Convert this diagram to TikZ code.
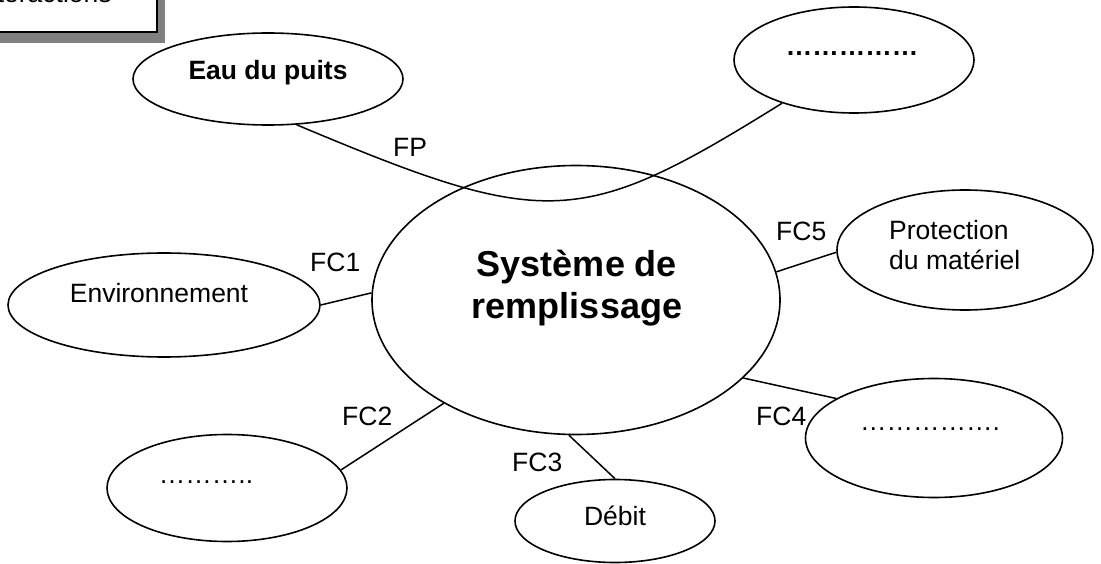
\documentclass[tikz,border=0pt]{standalone}
\usepackage{fontspec}
\setmainfont{Liberation Sans}
\usetikzlibrary{shapes.geometric}
\newcommand{\fnorm}{\fontsize{26.5}{30}\selectfont}
\newcommand{\fbig}{\fontsize{36}{43}\selectfont\bfseries}
\tikzset{
    blob/.style = {draw, ellipse, line width=1.6pt, inner sep=0pt},
    txt/.style = {font=\fnorm, inner sep=0pt, anchor=base},
    fclabel/.style = {font=\fnorm, inner sep=0pt, anchor=base west},
    wire/.style = {draw, line width=1.5pt}
}
\begin{document}
\begin{tikzpicture}[x=1pt,y=-1pt]
    \useasboundingbox (0,0) rectangle (1101,564);
    \clip (0,0) rectangle (1101,564);
    % title frame with its shadow, cut by the page edge
    \fill[gray] (-40,-40) rectangle (165,43);
    \draw[line width=1.6pt, fill=white] (-50,-50) rectangle (157,32);
    \node[txt, anchor=base west] (title) at (-24,3) {interactions};
    % ellipses
    \node[blob, minimum width=408pt, minimum height=269pt] (sys) at (576,300) {};
    \node[blob, minimum width=270pt, minimum height=92pt] (eau) at (268,79) {};
    \node[blob, minimum width=240pt, minimum height=106pt] (dots1) at (854,60) {};
    \node[blob, minimum width=312pt, minimum height=104pt] (env) at (164,305) {};
    \node[blob, minimum width=256pt, minimum height=120pt] (prot) at (965,250) {};
    \node[blob, minimum width=240pt, minimum height=107pt] (dots2) at (227,488) {};
    \node[blob, minimum width=200pt, minimum height=83pt] (debit) at (615,521) {};
    \node[blob, minimum width=257pt, minimum height=119pt] (dots4) at (934,438) {};
    % texts inside the ellipses (base = last line)
    \node[txt, font=\fbig, align=center] (systxt) at (577,319) {Système de\\remplissage};
    \node[txt, font=\fnorm\bfseries] (eautxt) at (268,80) {Eau du puits};
    \node[txt, font=\fnorm\bfseries] (dots1txt) at (852,56) {……………};
    \node[txt] (envtxt) at (159,302) {Environnement};
    \node[txt, anchor=base west, align=left] (prottxt) at (889,270) {Protection\\du matériel};
    \node[txt] (dots2txt) at (206,483) {………..};
    \node[txt] (debittxt) at (615,525) {Débit};
    \node[txt] (dots4txt) at (930,430) {…………….};
    % function labels
    \node[fclabel] (fp) at (393,157) {FP};
    \node[fclabel] (fc1) at (310,272) {FC1};
    \node[fclabel] (fc2) at (342,425) {FC2};
    \node[fclabel] (fc3) at (512,471) {FC3};
    \node[fclabel] (fc4) at (756,425) {FC4};
    \node[fclabel] (fc5) at (776,241) {FC5};
    % connectors
    \draw[wire] (eau.-58) .. controls (547,230) and (580,229) .. (dots1.211);
    \draw[wire] (env.east) -- (sys.178);
    \draw[wire] (dots2.9) -- (sys.218);
    \draw[wire] (sys.267) -- (debit.north);
    \draw[wire] (sys.-25) -- (dots4.158);
    \draw[wire] (sys.8) -- (prot.181);
\end{tikzpicture}
\end{document}
